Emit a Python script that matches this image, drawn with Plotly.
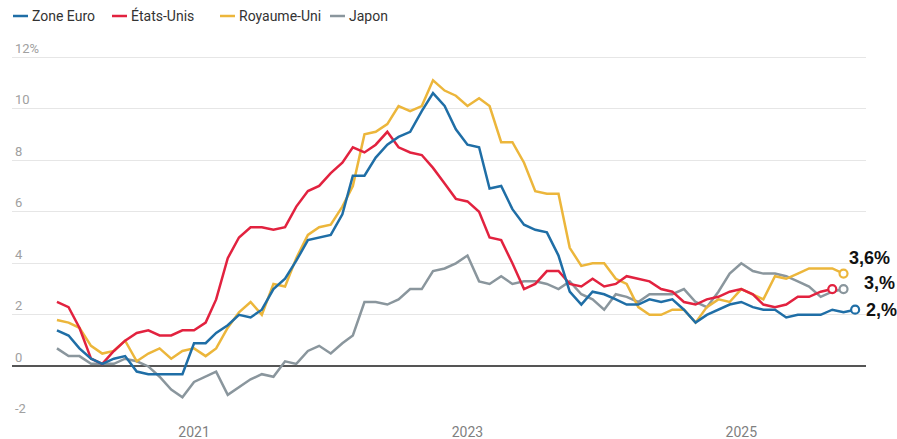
import plotly.graph_objects as go
import pandas as pd

# ---- data (monthly year-on-year inflation, %) ----
dates_all = pd.date_range("2020-01-01", "2025-11-01", freq="MS")

zone_euro = [1.4, 1.2, 0.7, 0.3, 0.1, 0.3, 0.4, -0.2, -0.3, -0.3, -0.3, -0.3,
             0.9, 0.9, 1.3, 1.6, 2.0, 1.9, 2.2, 3.0, 3.4, 4.1, 4.9, 5.0,
             5.1, 5.9, 7.4, 7.4, 8.1, 8.6, 8.9, 9.1, 9.9, 10.6, 10.1, 9.2,
             8.6, 8.5, 6.9, 7.0, 6.1, 5.5, 5.3, 5.2, 4.3, 2.9, 2.4, 2.9,
             2.8, 2.6, 2.4, 2.4, 2.6, 2.5, 2.6, 2.2, 1.7, 2.0, 2.2, 2.4,
             2.5, 2.3, 2.2, 2.2, 1.9, 2.0, 2.0, 2.0, 2.2, 2.1, 2.2]

etats_unis = [2.5, 2.3, 1.5, 0.3, 0.1, 0.6, 1.0, 1.3, 1.4, 1.2, 1.2, 1.4,
              1.4, 1.7, 2.6, 4.2, 5.0, 5.4, 5.4, 5.3, 5.4, 6.2, 6.8, 7.0,
              7.5, 7.9, 8.5, 8.3, 8.6, 9.1, 8.5, 8.3, 8.2, 7.7, 7.1, 6.5,
              6.4, 6.0, 5.0, 4.9, 4.0, 3.0, 3.2, 3.7, 3.7, 3.2, 3.1, 3.4,
              3.1, 3.2, 3.5, 3.4, 3.3, 3.0, 2.9, 2.5, 2.4, 2.6, 2.7, 2.9,
              3.0, 2.8, 2.4, 2.3, 2.4, 2.7, 2.7, 2.9, 3.0]

royaume_uni = [1.8, 1.7, 1.5, 0.8, 0.5, 0.6, 1.0, 0.2, 0.5, 0.7, 0.3, 0.6,
               0.7, 0.4, 0.7, 1.5, 2.1, 2.5, 2.0, 3.2, 3.1, 4.2, 5.1, 5.4,
               5.5, 6.2, 7.0, 9.0, 9.1, 9.4, 10.1, 9.9, 10.1, 11.1, 10.7, 10.5,
               10.1, 10.4, 10.1, 8.7, 8.7, 7.9, 6.8, 6.7, 6.7, 4.6, 3.9, 4.0,
               4.0, 3.4, 3.2, 2.3, 2.0, 2.0, 2.2, 2.2, 1.7, 2.3, 2.6, 2.5,
               3.0, 2.8, 2.6, 3.5, 3.4, 3.6, 3.8, 3.8, 3.8, 3.6]

japon = [0.7, 0.4, 0.4, 0.1, 0.1, 0.1, 0.3, 0.2, 0.0, -0.4, -0.9, -1.2,
         -0.6, -0.4, -0.2, -1.1, -0.8, -0.5, -0.3, -0.4, 0.2, 0.1, 0.6, 0.8,
         0.5, 0.9, 1.2, 2.5, 2.5, 2.4, 2.6, 3.0, 3.0, 3.7, 3.8, 4.0,
         4.3, 3.3, 3.2, 3.5, 3.2, 3.3, 3.3, 3.2, 3.0, 3.3, 2.8, 2.6,
         2.2, 2.8, 2.7, 2.5, 2.8, 2.8, 2.8, 3.0, 2.5, 2.3, 2.9, 3.6,
         4.0, 3.7, 3.6, 3.6, 3.5, 3.3, 3.1, 2.7, 2.9, 3.0]

series_names = ["Zone Euro", "États-Unis", "Royaume-Uni", "Japon"]
series_values = [zone_euro, etats_unis, royaume_uni, japon]
series_colors = ["#1f6ea6", "#e2223f", "#ecb63b", "#8a969d"]

# end labels (text as shown on the chart)
end_labels = ["3,6%", "3,%", "2,%"]
end_label_series = [2, 3, 0]
end_label_shift = [(3, 16), (18, 6), (9, 0)]

y_tickvals = [-2, 0, 2, 4, 6, 8, 10, 12]
y_ticktext = ["-2", "0", "2", "4", "6", "8", "10", "12%"]
x_tickvals = ["2021-01-01", "2023-01-01", "2025-01-01"]
x_ticktext = ["2021", "2023", "2025"]

# ---- layout geometry (pixels) ----
W, H = 897, 439
ML, MR, MT, MB = 12, 31, 39, 21
PW, PH = W - ML - MR, H - MT - MB
legend_px = [13, 112, 220, 330]   # left of each legend swatch
legend_py = 16


def px2paper_x(px):
    return (px - ML) / PW


def py2paper_y(py):
    return (H - MB - py) / PH


fig = go.Figure()

order = [3, 2, 1, 0]
for i in order:
    vals = series_values[i]
    d = dates_all[:len(vals)]
    fig.add_trace(go.Scatter(
        x=d, y=vals, mode="lines", name=series_names[i],
        line=dict(color=series_colors[i], width=2.5),
        showlegend=False, hoverinfo="skip",
    ))
for i in order:
    vals = series_values[i]
    d = dates_all[:len(vals)]
    fig.add_trace(go.Scatter(
        x=[d[-1]], y=[vals[-1]], mode="markers", showlegend=False,
        marker=dict(symbol="circle", size=8, color="white",
                    line=dict(color=series_colors[i], width=2.2)),
        hoverinfo="skip",
    ))

for txt, si, (dx, dy) in zip(end_labels, end_label_series, end_label_shift):
    vals = series_values[si]
    d = dates_all[:len(vals)]
    fig.add_annotation(
        x=d[-1], y=vals[-1], xref="x", yref="y", text="<b>%s</b>" % txt,
        showarrow=False, xanchor="left", yanchor="middle",
        xshift=dx, yshift=dy,
        font=dict(family="Liberation Sans, Arial", size=18, color="#111111"),
    )

# legend (swatch + label per series)
for name, color, px in zip(series_names, series_colors, legend_px):
    fig.add_shape(
        type="line", xref="paper", yref="paper",
        x0=px2paper_x(px), x1=px2paper_x(px + 15),
        y0=py2paper_y(legend_py), y1=py2paper_y(legend_py),
        line=dict(color=color, width=2.5),
    )
    fig.add_annotation(
        x=px2paper_x(px + 17), y=py2paper_y(legend_py),
        xref="paper", yref="paper", text=name, showarrow=False,
        xanchor="left", yanchor="middle",
        font=dict(family="Roboto, sans-serif", size=14, color="#333333"),
    )

fig.update_layout(
    width=W, height=H,
    margin=dict(l=ML, r=MR, t=MT, b=MB, autoexpand=False),
    paper_bgcolor="white", plot_bgcolor="white",
    font=dict(family="Roboto, sans-serif"),
    showlegend=False,
    xaxis=dict(
        type="date",
        range=["2019-09-03", "2025-11-30"],
        tickvals=x_tickvals, ticktext=x_ticktext,
        showgrid=False, zeroline=False, showline=False, ticks="",
        automargin=False, ticklabelstandoff=4,
        tickfont=dict(size=14, color="#7f7f7f"),
    ),
    yaxis=dict(
        range=[-2, 12.7],
        tickvals=y_tickvals, ticktext=y_ticktext,
        ticklabelposition="inside top", automargin=False,
        showgrid=True, gridcolor="#e6e6e6", gridwidth=1,
        zeroline=True, zerolinecolor="#555555", zerolinewidth=2,
        showline=False, ticks="",
        tickfont=dict(size=13, color="#a0a0a0"),
    ),
)

fig.write_html("out.html", config={"displayModeBar": False},
               post_script="document.body.style.margin='0';")
